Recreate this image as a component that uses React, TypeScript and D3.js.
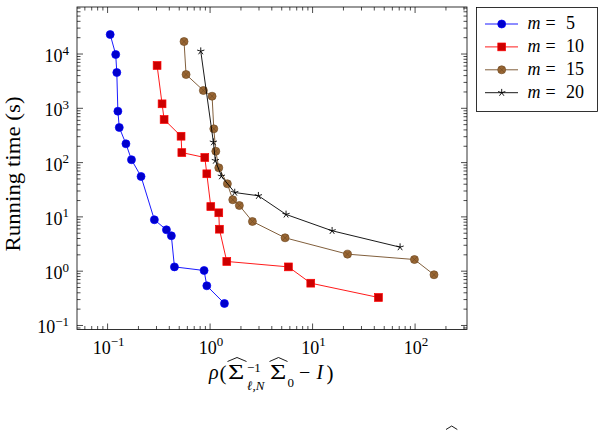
import React, { useEffect, useRef } from "react";
import * as d3 from "d3";

// values (x: rho, y: running time in s)
const m5Rho = [0.106, 0.12, 0.123, 0.126, 0.13, 0.151, 0.171, 0.212, 0.286, 0.375, 0.419, 0.449, 0.874, 0.929, 1.38];
const m5Time = [22850, 9800, 4560, 885, 443, 222, 113, 55.5, 8.85, 5.78, 4.49, 1.2, 1.03, 0.538, 0.254];

const m10Rho = [0.304, 0.34, 0.356, 0.521, 0.53, 0.888, 0.929, 1.016, 1.216, 1.233, 1.455, 5.81, 9.6, 43.9];
const m10Time = [6140, 1210, 622, 306, 153, 124, 62.2, 15.5, 11.9, 5.93, 1.51, 1.2, 0.601, 0.328];

const m15Rho = [0.557, 0.583, 0.86, 1.046, 1.087, 1.137, 1.216, 1.475, 1.664, 1.93, 2.59, 5.39, 21.9, 98.5, 153];
const m15Time = [16980, 4190, 2130, 1670, 419, 162, 80.2, 40.7, 20.7, 16.2, 8.23, 4.12, 2.06, 1.64, 0.859];

const m20Rho = [0.811, 1.077, 1.126, 1.289, 1.74, 2.96, 5.51, 15.5, 71.4];
const m20Time = [11270, 238, 109, 56.2, 28.1, 24.5, 11.1, 5.55, 2.77];

const mLabels = ["5", "10", "15", "20"];
const xDecades = [-1, 0, 1, 2];
const yDecades = [-1, 0, 1, 2, 3, 4];

const FONT = "'Liberation Serif', 'DejaVu Serif', serif";

const App = () => {
  const svgRef = useRef(null);

  useEffect(() => {
    const width = 604;
    const height = 431;
    const plot = { left: 77, right: 467, top: 7, bottom: 329.5 };

    const svg = d3.select(svgRef.current).attr("width", width).attr("height", height);
    svg.selectAll("*").remove();

    const x = d3.scaleLog().domain([0.0503, 321]).range([plot.left, plot.right]);
    const y = d3.scaleLog().domain([0.0843, 73450]).range([plot.bottom, plot.top]);

    const series = [
      { rho: m5Rho, time: m5Time, line: "#0000ff", fill: "#0000cc", mark: "circle" },
      { rho: m10Rho, time: m10Time, line: "#ff0000", fill: "#cc0000", mark: "square" },
      { rho: m15Rho, time: m15Time, line: "#734d26", fill: "#996633", mark: "otimes" },
      { rho: m20Rho, time: m20Time, line: "#000000", fill: "none", mark: "star" },
    ];

    const drawMark = (g, kind, cx, cy, s) => {
      if (kind === "circle") {
        g.append("circle").attr("cx", cx).attr("cy", cy).attr("r", 4)
          .attr("fill", s.fill).attr("stroke", s.line).attr("stroke-width", 0.7);
      } else if (kind === "square") {
        g.append("rect").attr("x", cx - 3.9).attr("y", cy - 3.9).attr("width", 7.8).attr("height", 7.8)
          .attr("fill", s.fill).attr("stroke", s.line).attr("stroke-width", 0.7);
      } else if (kind === "otimes") {
        g.append("circle").attr("cx", cx).attr("cy", cy).attr("r", 4)
          .attr("fill", s.fill).attr("stroke", s.line).attr("stroke-width", 0.7);
        const d = 4 * 0.707;
        g.append("path")
          .attr("d", `M${cx - d},${cy - d}L${cx + d},${cy + d}M${cx - d},${cy + d}L${cx + d},${cy - d}`)
          .attr("stroke", s.line).attr("stroke-width", 0.7);
      } else {
        let p = "";
        for (let i = 0; i < 5; i++) {
          const a = (-90 + i * 72) * Math.PI / 180;
          p += `M${cx},${cy}L${cx + 3.8 * Math.cos(a)},${cy + 3.8 * Math.sin(a)}`;
        }
        g.append("path").attr("d", p).attr("stroke", s.line).attr("stroke-width", 0.9).attr("fill", "none");
      }
    };

    // ticks on all four sides, pointing inwards
    const minorVals = (scale) => {
      const [a, b] = scale.domain();
      const out = [];
      for (let d = -2; d <= 4; d++) {
        for (let k = 2; k <= 9; k++) {
          const v = k * Math.pow(10, d);
          if (v > a && v < b) out.push(v);
        }
      }
      return out;
    };
    const tickG = svg.append("g").attr("stroke", "#000").attr("stroke-width", 0.7);
    const xMajor = xDecades.map((d) => Math.pow(10, d));
    const yMajor = yDecades.map((d) => Math.pow(10, d));
    const xTicks = [...xMajor.map((v) => ({ v, l: 6 })), ...minorVals(x).map((v) => ({ v, l: 3.5 }))];
    const yTicks = [...yMajor.map((v) => ({ v, l: 6 })), ...minorVals(y).map((v) => ({ v, l: 3.5 }))];
    xTicks.forEach((t) => {
      const px = x(t.v);
      tickG.append("line").attr("x1", px).attr("x2", px).attr("y1", plot.bottom).attr("y2", plot.bottom - t.l);
      tickG.append("line").attr("x1", px).attr("x2", px).attr("y1", plot.top).attr("y2", plot.top + t.l);
    });
    yTicks.forEach((t) => {
      const py = y(t.v);
      tickG.append("line").attr("x1", plot.left).attr("x2", plot.left + t.l).attr("y1", py).attr("y2", py);
      tickG.append("line").attr("x1", plot.right).attr("x2", plot.right - t.l).attr("y1", py).attr("y2", py);
    });

    svg.append("rect")
      .attr("x", plot.left).attr("y", plot.top)
      .attr("width", plot.right - plot.left).attr("height", plot.bottom - plot.top)
      .attr("fill", "none").attr("stroke", "#000").attr("stroke-width", 0.8);

    // tick labels
    const powLabel = (sel, exp) => {
      sel.append("tspan").text("10");
      sel.append("tspan").attr("font-size", 13).attr("dy", -7.5)
        .text(exp < 0 ? "\u2212" + Math.abs(exp) : String(exp));
    };
    xDecades.forEach((d) => {
      const t = svg.append("text").attr("x", x(Math.pow(10, d)) + 1).attr("y", plot.bottom + 24)
        .attr("text-anchor", "middle").attr("font-family", FONT).attr("font-size", 18);
      powLabel(t, d);
    });
    yDecades.forEach((d) => {
      const t = svg.append("text").attr("x", 69).attr("y", y(Math.pow(10, d)) + 8)
        .attr("text-anchor", "end").attr("font-family", FONT).attr("font-size", 18);
      powLabel(t, d);
    });

    // lines and marks
    const line = d3.line().x((d) => x(d[0])).y((d) => y(d[1]));
    series.forEach((s) => {
      const pts = s.rho.map((r, i) => [r, s.time[i]]);
      const g = svg.append("g");
      g.append("path").attr("d", line(pts)).attr("fill", "none")
        .attr("stroke", s.line).attr("stroke-width", 0.9);
      pts.forEach((p) => drawMark(g, s.mark, x(p[0]), y(p[1]), s));
    });

    // axis titles
    svg.append("text")
      .attr("transform", `translate(20,174) rotate(-90)`)
      .attr("text-anchor", "middle").attr("font-family", FONT).attr("font-size", 20)
      .attr("textLength", 155).attr("lengthAdjust", "spacingAndGlyphs")
      .text("Running time (s)");

    const lab = svg.append("g").attr("font-family", FONT).attr("fill", "#000");
    const base = 378.5;
    const parts = [
      { t: "\u03c1", x: 209, y: base, fs: 20, it: true },
      { t: "(", x: 219.5, y: base + 1, fs: 21 },
      { t: "\u03a3", x: 228, y: base, fs: 20, sx: 1.4 },
      { t: "\u22121", x: 247, y: 371.5, fs: 13 },
      { t: "\u2113,N", x: 247, y: 389.5, fs: 13, it: true },
      { t: "\u03a3", x: 270, y: base, fs: 20, sx: 1.4 },
      { t: "0", x: 287.5, y: 386.5, fs: 13 },
      { t: "\u2212", x: 299, y: base, fs: 20 },
      { t: "I", x: 316.5, y: base, fs: 20, it: true },
      { t: ")", x: 326.5, y: base + 1, fs: 21 },
    ];
    parts.forEach((p) => {
      const t = lab.append("text").attr("font-size", p.fs)
        .attr("font-style", p.it ? "italic" : "normal").text(p.t);
      if (p.sx) t.attr("transform", `translate(${p.x},${p.y}) scale(${p.sx},1)`);
      else t.attr("x", p.x).attr("y", p.y);
    });
    [[227.5, 246.5], [269.5, 287.5]].forEach(([a, b]) => {
      lab.append("path")
        .attr("d", `M${a},361.5L${(a + b) / 2},357.5L${b},361.5`)
        .attr("fill", "none").attr("stroke", "#000").attr("stroke-width", 0.9);
    });

    // cut-off hat of the caption below the figure
    svg.append("path").attr("d", "M446,429.5L451.7,426L457.3,429.5")
      .attr("fill", "none").attr("stroke", "#000").attr("stroke-width", 0.9);

    // legend
    const leg = svg.append("g");
    leg.append("rect").attr("x", 476.5).attr("y", 7.5).attr("width", 121).attr("height", 104)
      .attr("fill", "#fff").attr("stroke", "#000").attr("stroke-width", 0.8);
    series.forEach((s, i) => {
      const cy = 24 + i * 22.9;
      leg.append("line").attr("x1", 485).attr("x2", 518).attr("y1", cy).attr("y2", cy)
        .attr("stroke", s.line).attr("stroke-width", 0.9);
      drawMark(leg, s.mark, 501.7, cy, s);
      const t = leg.append("text").attr("y", cy + 5).attr("font-family", FONT).attr("font-size", 18);
      t.append("tspan").attr("x", 527.5).attr("font-style", "italic").text("m");
      t.append("tspan").attr("x", 545.5).text("=");
      t.append("tspan").attr("x", 566).text(mLabels[i]);
    });
  }, []);

  return (
    <svg ref={svgRef} style={{ position: "absolute", left: 0, top: 0, background: "#fff" }}></svg>
  );
};

export default App;
